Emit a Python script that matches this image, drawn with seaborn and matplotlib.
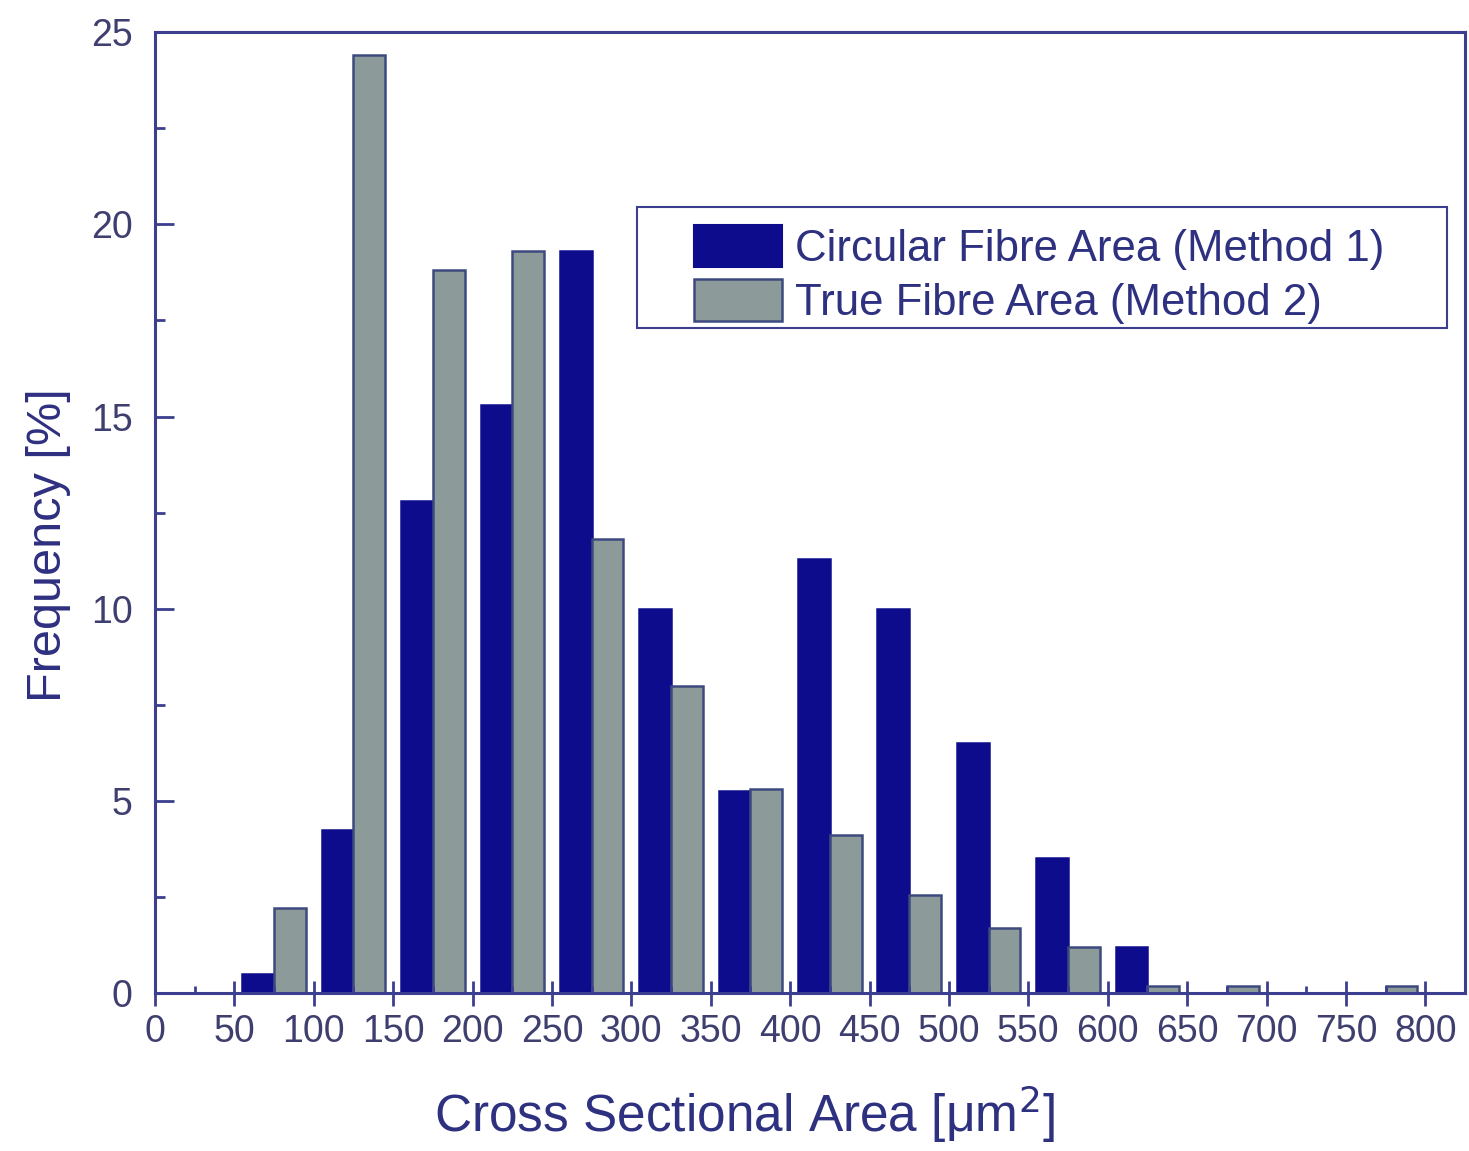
import matplotlib
matplotlib.use("Agg")
import matplotlib.pyplot as plt
from matplotlib.patches import Patch, Rectangle
from matplotlib.ticker import MultipleLocator
import seaborn as sns
import pandas as pd

# bin centres of the 50 um^2 classes and the two measured distributions (%)
bin_centres = [75, 125, 175, 225, 275, 325, 375, 425, 475, 525, 575, 625, 675, 725, 775]
circular_area = [0.5, 4.25, 12.8, 15.3, 19.3, 10.0, 5.25, 11.3, 10.0, 6.5, 3.5, 1.2, 0.0, 0.0, 0.0]
true_area = [2.2, 24.4, 18.8, 19.3, 11.8, 8.0, 5.3, 4.1, 2.55, 1.7, 1.2, 0.18, 0.18, 0.0, 0.18]

label_circ = "Circular Fibre Area (Method 1)"
label_true = "True Fibre Area (Method 2)"

NAVY = "#0c0c8c"
GREY = "#8c9b9a"
GREY_EDGE = "#3d4a80"
AXIS = "#3c3f8f"
TEXT = "#2e3080"
TICKTEXT = "#3e3f6e"

plt.rcParams["font.family"] = ["Liberation Sans", "DejaVu Sans"]

df = pd.DataFrame({
    "centre": bin_centres * 2,
    "freq": circular_area + true_area,
    "method": [label_circ] * len(bin_centres) + [label_true] * len(bin_centres),
})

fig = plt.figure(figsize=(14.69, 11.51), dpi=100)
ax = fig.add_axes([0.1055, 0.1373, 0.8918, 0.8347])

sns.barplot(data=df, x="centre", y="freq", hue="method", native_scale=True,
            palette={label_circ: NAVY, label_true: GREY}, width=0.8, saturation=1,
            errorbar=None, legend=False, ax=ax, linewidth=1.8)

# edge colours per series
for patch in ax.containers[0]:
    patch.set_edgecolor(NAVY)
for patch in ax.containers[1]:
    patch.set_edgecolor(GREY_EDGE)

ax.set_xlim(0, 825)
ax.set_ylim(0, 25)
ax.xaxis.set_major_locator(MultipleLocator(50))
ax.xaxis.set_minor_locator(MultipleLocator(25))
ax.yaxis.set_major_locator(MultipleLocator(5))
ax.yaxis.set_minor_locator(MultipleLocator(2.5))

for s in ax.spines.values():
    s.set_color(AXIS)
    s.set_linewidth(2.2)

ax.tick_params(axis="x", which="major", direction="inout", length=18, width=2,
               color=AXIS, labelsize=27, labelcolor=TICKTEXT, pad=6)
ax.tick_params(axis="x", which="minor", direction="in", length=5, width=2, color=AXIS)
ax.tick_params(axis="y", which="major", direction="in", length=14, width=2,
               color=AXIS, labelsize=27, labelcolor=TICKTEXT, pad=16)
ax.tick_params(axis="y", which="minor", direction="in", length=7, width=2, color=AXIS)

ax.set_xlabel("Cross Sectional Area [μm$^{2}$]", fontsize=37, color=TEXT)
ax.set_ylabel("Frequency [%]", fontsize=35, color=TEXT)
ax.xaxis.set_label_coords(0.45, -0.094)
ax.yaxis.set_label_coords(-0.064, 0.466)

handles = [Patch(facecolor=NAVY, edgecolor=NAVY, linewidth=1.5, label=label_circ),
           Patch(facecolor=GREY, edgecolor=GREY_EDGE, linewidth=1.8, label=label_true)]
leg = ax.legend(handles=handles, loc="upper left", bbox_to_anchor=(0.395, 0.822),
                frameon=False, fontsize=31.5, borderpad=0, handlelength=2.0,
                handleheight=1.1, handletextpad=0.3, labelspacing=0.2)
for t in leg.get_texts():
    t.set_color(TEXT)
ax.add_patch(Rectangle((0.368, 0.692), 0.618, 0.126, transform=ax.transAxes,
                       fill=False, edgecolor=AXIS, linewidth=1.5, zorder=5))

fig.savefig("out.png", dpi=100)
